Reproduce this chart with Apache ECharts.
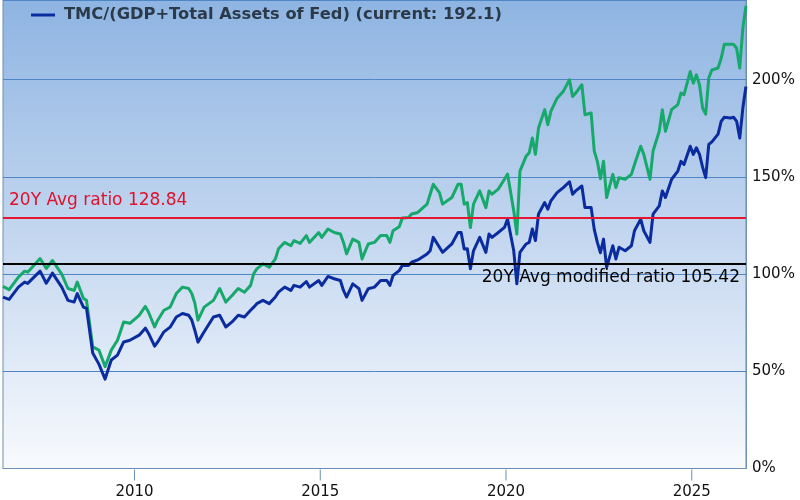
<!DOCTYPE html>
<html>
<head>
<meta charset="utf-8">
<script src="https://cdn.jsdelivr.net/npm/echarts@6/dist/echarts.min.js"></script>
<style>
  html, body { margin: 0; padding: 0; background: #fff; }
  #chart { width: 800px; height: 500px; }
</style>
</head>
<body>
<div id="chart"></div>
<script>
// months (irregular spacing, follows the wiggles)
const months = [
  "2006-06", "2006-08", "2006-11", "2007-01", "2007-02", "2007-06", "2007-08", "2007-10",
  "2008-01", "2008-03", "2008-05", "2008-06", "2008-08", "2008-09", "2008-11",
  "2009-01", "2009-03", "2009-05", "2009-07", "2009-09", "2009-11",
  "2010-02", "2010-04", "2010-05", "2010-07", "2010-08", "2010-10", "2010-12",
  "2011-02", "2011-04", "2011-06", "2011-07", "2011-08", "2011-09", "2011-11",
  "2012-02", "2012-04", "2012-06", "2012-08", "2012-10", "2012-12",
  "2013-02", "2013-03", "2013-04", "2013-06", "2013-08", "2013-10", "2013-11",
  "2014-01", "2014-03", "2014-04", "2014-06", "2014-08", "2014-09", "2014-12",
  "2015-01", "2015-03", "2015-05", "2015-07", "2015-08", "2015-09", "2015-11",
  "2016-01", "2016-02", "2016-04", "2016-06", "2016-08", "2016-10", "2016-11", "2016-12",
  "2017-02", "2017-03", "2017-05", "2017-06", "2017-08", "2017-11", "2017-12",
  "2018-01", "2018-03", "2018-04", "2018-07", "2018-09", "2018-10", "2018-11", "2018-12",
  "2019-01", "2019-02", "2019-04", "2019-06", "2019-07", "2019-08", "2019-10", "2019-12",
  "2020-01", "2020-03", "2020-04", "2020-05", "2020-07", "2020-08", "2020-09", "2020-10", "2020-11",
  "2021-01", "2021-02", "2021-03", "2021-05", "2021-07", "2021-09", "2021-10", "2021-11",
  "2022-01", "2022-02", "2022-04", "2022-05", "2022-06", "2022-07", "2022-08", "2022-09", "2022-11", "2022-12",
  "2023-01", "2023-03", "2023-05", "2023-06", "2023-08", "2023-09", "2023-11", "2023-12",
  "2024-02", "2024-03", "2024-04", "2024-06", "2024-08", "2024-09", "2024-10", "2024-12",
  "2025-01", "2025-02", "2025-03", "2025-04", "2025-05", "2025-06", "2025-07", "2025-09", "2025-10", "2025-11",
  "2026-01", "2026-02", "2026-03", "2026-04", "2026-05", "2026-06"
];

// TMC/GDP (green)
const tmcGdp = [
  93.7, 92, 98.4, 101.5, 101, 108, 102.9, 107,
  100, 92.6, 91.6, 95.9, 87.5, 86.5, 62.6,
  60.9, 52.4, 60.9, 66, 75.4, 74.7,
  78.8, 83.4, 80.5, 72.8, 76.3, 81.4, 83,
  90, 93.3, 92.6, 90, 85, 76.3, 83,
  86.5, 92.6, 85.6, 89, 92.6, 90.7,
  94.2, 100.2, 102.7, 105.3, 103.5, 107.8, 113,
  116.3, 114.6, 117.2, 115.8, 119.8, 116.3, 121.4,
  118.9, 123.2, 121.4, 120.6, 116.3, 110.4, 118,
  116.3, 107.8, 115.5, 116.3, 119.8, 119.8, 116.3, 122.3,
  124.4, 128.8, 129.1, 130.9, 131.7, 136, 141.1,
  146.2, 141.9, 136, 139.4, 146.2, 146.2, 136, 136.8,
  124, 136, 142.8, 134.2, 142.8, 141.1, 143.7, 148.8,
  151.5, 132.5, 120.6, 153, 160.7, 162.4, 170, 161.6, 175.2,
  184.6, 176.9, 183.7, 190.5, 194, 200, 191.4, 193.1,
  197.4, 182, 182.9, 163.3, 158, 149, 158, 139.4, 151.3, 144.5,
  149.6, 148.8, 151.3, 156.4, 165.8, 161.6, 148.8, 163.3,
  173.5, 184.6, 173.5, 184.6, 187.2, 193.1, 192.3, 204.2,
  198.2, 202.5, 197.4, 185.4, 182.3, 201, 205, 206, 211, 218.2,
  218.2, 218.2, 216.2, 206, 226.5, 238
];

// TMC/(GDP+Total Assets of Fed) (dark blue)
const tmcGdpFed = [
  88.2, 87, 93.3, 95.9, 95.2, 101.5, 95.3, 100.5,
  93.3, 86.5, 85.6, 90, 83, 82.4, 59.4,
  53.7, 46, 55.8, 58.3, 65.1, 66,
  68.6, 72.2, 69.6, 62.9, 65.1, 70.3, 72.7,
  77.9, 79.7, 78.8, 76.3, 71, 65, 70.3,
  77.9, 78.8, 72.8, 75.4, 78.8, 77.9,
  81.4, 83, 84.8, 86.5, 84.8, 88.2, 90.7,
  93.3, 91.6, 94.2, 93.3, 96.2, 93.3, 96.7,
  94.2, 98.8, 97.6, 96.7, 91.6, 88.2, 95,
  92.5, 86.5, 92.5, 93.3, 96.7, 96.7, 94.2, 99.3,
  101.8, 104.4, 104.4, 106.1, 107.3, 110.4, 112,
  118.9, 113.8, 111.2, 115.5, 121.4, 121.4, 112.9, 113,
  102.7, 112, 118.9, 111.2, 120.6, 118.9, 121.4, 124,
  128.3, 112, 95, 111.2, 115.5, 116.3, 123.2, 117.2, 130.9,
  136.8, 133.4, 137.7, 141.9, 144.5, 147.5, 141.1, 142.8,
  145.3, 134.2, 134.2, 123, 116.3, 111, 118, 103.5, 114.6, 107.8,
  113.8, 112, 114.6, 122.3, 128.3, 122.3, 116.3, 130.9,
  135.1, 142.8, 139.4, 148.8, 153, 158, 156.4, 165.8,
  161.6, 165, 161.6, 155, 149.6, 166.7, 168, 172, 178.6, 180.7,
  180.3, 180.7, 178.6, 170, 185.4, 196.5
];

const yearTicks = [2010, 2015, 2020, 2025];
const avgRatio = 128.84;
const avgModifiedRatio = 105.42;
const currentModified = 192.1;

const gdpName = "TMC/GDP";
const fedName = "TMC/(GDP+Total Assets of Fed)";

// "2010-07" -> 2010.54 (middle of the month)
function toYear(m) {
  const [y, mo] = m.split("-").map(Number);
  return y + (mo - 0.5) / 12;
}
const xs = months.map(toYear);

const font = "DejaVu Sans";
const frameColor = "#6d8fb5";

const option = {
  animation: false,
  legend: {
    data: [fedName],
    left: 26,
    top: 2,
    icon: "rect",
    itemWidth: 24,
    itemHeight: 3,
    formatter: (n) => n + " (current: " + currentModified + ")",
    textStyle: {
      fontFamily: font,
      fontSize: 16.3,
      fontWeight: "bold",
      color: "#2b3a48",
      padding: [0, 0, 0, 4],
    },
  },
  grid: {
    left: 3,
    right: 54,
    top: -2,
    bottom: 31,
    show: true,
    borderColor: frameColor,
    borderWidth: 1,
    backgroundColor: {
      type: "linear",
      x: 0, y: 0, x2: 0, y2: 1,
      colorStops: [
        { offset: 0, color: "#8eb4e2" },
        { offset: 0.45, color: "#bed3ee" },
        { offset: 0.8, color: "#e3ecf8" },
        { offset: 1, color: "#f8fafd" },
      ],
    },
  },
  xAxis: {
    type: "value",
    min: 2006.46,
    max: 2026.46,
    axisLine: { show: true, lineStyle: { color: frameColor, width: 1 } },
    splitLine: { show: false },
    axisTick: { show: false },
    axisLabel: {
      customValues: yearTicks,
      // tick mark drawn as a thin box above the year
      formatter: (v) => "{t| }\n{y|" + v + "}",
      margin: 1,
      rich: {
        t: { width: 1, height: 11, lineHeight: 11, backgroundColor: frameColor },
        y: { fontFamily: font, fontSize: 15, color: "#111", lineHeight: 24 },
      },
    },
  },
  yAxis: {
    type: "value",
    position: "right",
    min: 0,
    max: 241,
    interval: 50,
    axisLine: { show: true, lineStyle: { color: frameColor, width: 1 } },
    axisTick: { show: false },
    splitLine: { show: true, lineStyle: { color: "#4f86c6", width: 1 } },
    axisLabel: {
      formatter: "{value}%",
      showMaxLabel: false,
      fontFamily: font,
      fontSize: 15,
      color: "#111",
      margin: 6,
    },
  },
  series: [
    {
      name: gdpName,
      type: "line",
      data: xs.map((x, i) => [x, tmcGdp[i]]),
      color: "#17a86b",
      showSymbol: false,
      lineStyle: { width: 3, join: "round" },
      markLine: {
        symbol: "none",
        silent: true,
        data: [
          {
            yAxis: avgRatio,
            lineStyle: { color: "#e6162e", width: 2, type: "solid" },
            label: {
              position: "insideStartTop",
              formatter: "20Y Avg ratio " + avgRatio,
              color: "#e0112b",
              fontFamily: font,
              fontSize: 17,
              distance: [6, 9],
            },
          },
          {
            yAxis: avgModifiedRatio,
            lineStyle: { color: "#000", width: 2, type: "solid" },
            label: {
              position: "insideEndBottom",
              formatter: "20Y Avg modified ratio " + avgModifiedRatio,
              color: "#000",
              fontFamily: font,
              fontSize: 17,
              distance: 6,
            },
          },
        ],
      },
    },
    {
      name: fedName,
      type: "line",
      data: xs.map((x, i) => [x, tmcGdpFed[i]]),
      color: "#0b2c9e",
      showSymbol: false,
      lineStyle: { width: 3, join: "round" },
    },
  ],
};

const chart = echarts.init(document.getElementById("chart"));
chart.setOption(option);
</script>
</body>
</html>
